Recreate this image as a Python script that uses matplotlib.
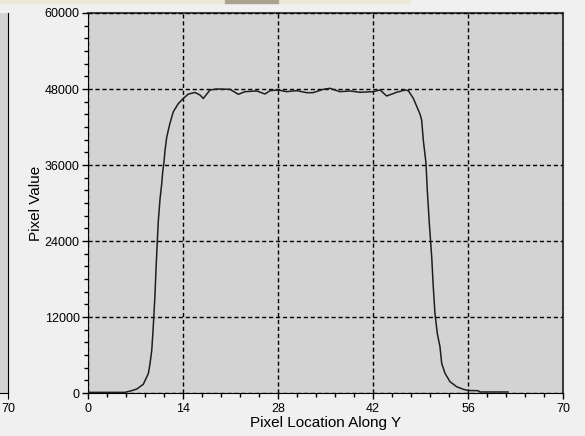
import matplotlib
matplotlib.use("Agg")
import matplotlib.pyplot as plt
import matplotlib.ticker as mticker
from matplotlib.patches import Rectangle

# profile along Y
location = [0, 5.45, 6.2, 7.2, 8.15, 8.9, 9.15, 9.4, 9.62, 9.87, 10.02, 10.21,
            10.36, 10.61, 10.86, 11.0, 11.2, 11.35, 11.6, 12.08, 12.57, 13.31,
            14.04, 14.78, 15.77, 16.5, 16.99, 17.98, 18.97, 20.93, 22.15, 23.14,
            24.86, 26.08, 26.82, 28.04, 29.28, 30.75, 32.23, 33.16, 34.67, 35.66,
            37.13, 38.61, 40.08, 42.04, 43.03, 44.02, 45.49, 46.71, 47.2, 47.94,
            48.92, 49.17, 49.41, 49.81, 50.0, 50.3, 50.65, 50.88, 51.13, 51.47,
            51.87, 52.12, 52.61, 53.35, 54.33, 55.31, 56.04, 57.51, 57.77, 61.9]
pixel_value = [100, 100, 300, 630, 1380, 3100, 4700, 6800, 10500, 15500, 19500, 23900,
               27100, 30600, 33000, 34800, 36500, 38300, 40400, 42600, 44400, 45700,
               46500, 47200, 47450, 47050, 46500, 47850, 48000, 47950, 47160, 47580,
               47690, 47210, 47740, 47840, 47580, 47740, 47420, 47420, 47950, 48110,
               47580, 47690, 47480, 47580, 47840, 46900, 47480, 47840, 47740, 46530,
               44060, 43110, 39950, 36270, 32050, 26800, 21520, 16790, 12580, 9430,
               7310, 4690, 3110, 1780, 990, 580, 400, 360, 160, 160]

x_ticks = [0, 14, 28, 42, 56, 70]
y_ticks = [0, 12000, 24000, 36000, 48000, 60000]

plt.rcParams["font.family"] = ["Liberation Sans", "DejaVu Sans"]
bg = "#f0f0f0"
panel = "#d3d3d3"

fig = plt.figure(figsize=(5.85, 4.36), dpi=100, facecolor=bg)
ax = fig.add_axes([88 / 585, 43 / 436, 475 / 585, 380 / 436], facecolor=panel)

ax.plot(location, pixel_value, color="#1e1e1e", lw=1.1, zorder=3)

ax.set_xlim(0, 70)
ax.set_ylim(0, 60000)
ax.set_xticks(x_ticks)
ax.set_yticks(y_ticks)
ax.xaxis.set_minor_locator(mticker.MultipleLocator(2.8))
ax.yaxis.set_minor_locator(mticker.MultipleLocator(2000))
ax.tick_params(which="major", direction="out", length=4.5, width=1, labelsize=9, pad=3)
ax.tick_params(axis="y", which="major", pad=1.5)
ax.tick_params(which="minor", direction="out", length=3, width=1)

ax.grid(True, which="major", color="black", lw=1, linestyle=(0, (3, 2)))
ax.set_axisbelow(False)

for side in ["left", "bottom"]:
    ax.spines[side].set_color("black")
for side in ["top", "right"]:
    ax.spines[side].set_color("#404040")
    ax.spines[side].set_linewidth(1.5)

ax.set_xlabel("Pixel Location Along Y", fontsize=11)
ax.set_ylabel("Pixel Value", fontsize=11)
ax.xaxis.set_label_coords(0.501, -0.06)
ax.yaxis.set_label_coords(-0.094, 0.5)

# edge of the neighbouring chart on the left
ax2 = fig.add_axes([0, 43 / 436, 8 / 585, 380 / 436], facecolor=panel)
ax2.set_xlim(60, 70)
ax2.set_xticks([70])
ax2.set_yticks([])
ax2.tick_params(direction="out", length=4.5, labelsize=9, pad=3)
for side in ["left", "top"]:
    ax2.spines[side].set_visible(False)

# window strip at the top
fig.patches.append(Rectangle((0, 433 / 436), 410 / 585, 3 / 436,
                             transform=fig.transFigure, color="#ece9d8"))
fig.patches.append(Rectangle((225 / 585, 433 / 436), 53 / 585, 3 / 436,
                             transform=fig.transFigure, color="#aaa28e"))

fig.savefig("out.png", dpi=100, facecolor=bg)
